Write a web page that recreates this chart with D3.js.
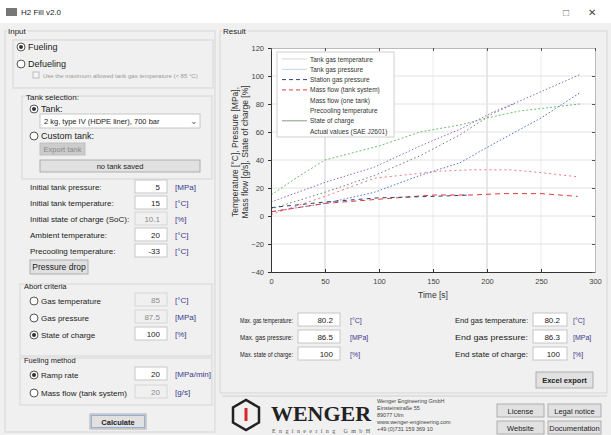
<!DOCTYPE html>
<html>
<head>
<meta charset="utf-8">
<script src="https://cdnjs.cloudflare.com/ajax/libs/d3/7.8.5/d3.min.js"></script>
<style>
body { margin: 0; background: #f0f0f0; overflow: hidden; }
text { font-family: "Liberation Sans", Arial, sans-serif; fill: #222; }
</style>
</head>
<body>
<svg id="app" width="611" height="435"></svg>
<script>
// ---- chart data ----
const timeTicks = [0, 50, 100, 150, 200, 250, 300];
const valueTicks = [-40, -20, 0, 20, 40, 60, 80, 100, 120];

const legendNames = ["Tank gas temperature", "Tank gas pressure", "Station gas pressure",
  "Mass flow (tank system)", "Mass flow (one tank)", "Precooling temperature",
  "State of charge", "Actual values (SAE J2601)"];

const tempTime = [0, 50, 96, 138, 175, 205, 230, 286];
const tempVal = [10, 24, 35, 50, 62, 74, 82, 101];

const gasTime = [0, 50, 96, 138, 175, 205, 225];
const gasVal = [5, 17, 29, 43, 58, 73, 80];

const pressTime = [0, 50, 96, 138, 175, 200, 250, 286];
const pressVal = [3, 9, 17, 29, 38, 49, 70, 88];

const socTime = [0, 25, 50, 75, 100, 138, 175, 200, 230, 286];
const socVal = [15, 28, 40, 45, 50, 60, 65, 70, 75, 80];

const flowOneTime = [0, 50, 96, 156, 185, 221, 250, 284];
const flowOneVal = [1, 14, 27, 32, 33, 33, 31, 28];

const flowTime = [0, 25, 50, 100, 150, 185, 215, 250, 284];
const flowVal = [3, 6, 9, 12, 15, 15, 16, 16, 14];

const stationTime = [0, 25, 50, 100, 150, 185];
const stationVal = [6, 8, 10, 13, 14, 15];

// ---- form texts ----
const inputLabels = ["Initial tank pressure:", "Initial tank temperature:", "Initial state of charge (SoC):",
  "Ambient temperature:", "Precooling temperature:"];
const inputValues = ["5", "15", "10.1", "20", "-33"];
const inputUnits = ["[MPa]", "[°C]", "[%]", "[°C]", "[°C]"];

const abortLabels = ["Gas temperature", "Gas pressure", "State of charge"];
const abortValues = ["85", "87.5", "100"];
const abortUnits = ["[°C]", "[MPa]", "[%]"];

const methodLabels = ["Ramp rate", "Mass flow (tank system)"];
const methodValues = ["20", "20"];
const methodUnits = ["[MPa/min]", "[g/s]"];

const maxLabels = ["Max. gas temperature:", "Max. gas pressure:", "Max. state of charge:"];
const maxValues = ["80.2", "86.5", "100"];
const endLabels = ["End gas temperature:", "End gas pressure:", "End state of charge:"];
const endValues = ["80.2", "86.3", "100"];
const resultUnits = ["[°C]", "[MPa]", "[%]"];

const addressLines = ["Wenger Engineering GmbH", "Einsteinstraße 55", "89077 Ulm",
  "www.wenger-engineering.com", "+49 (0)731 159 369 10"];

const svg = d3.select("#app");

// ---- helpers ----
function label(x, y, s, size, color, anchor) {
  return svg.append("text").attr("x", x).attr("y", y).text(s)
    .attr("font-size", size || 8.5)
    .style("fill", color || "#222")
    .attr("text-anchor", anchor || "start");
}
function group(x, y, w, h, title) {
  svg.append("rect").attr("x", x).attr("y", y).attr("width", w).attr("height", h)
    .attr("fill", "none").attr("stroke", "#d5d5d5");
  if (title) {
    const t = label(x + 3, y + 3, title, 8);
    const bb = t.node().getBBox();
    svg.insert("rect", "text:last-of-type").attr("x", bb.x - 1).attr("y", y - 2)
      .attr("width", bb.width + 2).attr("height", 5).attr("fill", "#f0f0f0");
  }
}
function radio(x, y, on, s, size) {
  svg.append("circle").attr("cx", x).attr("cy", y).attr("r", 4)
    .attr("fill", "#fff").attr("stroke", "#555");
  if (on) svg.append("circle").attr("cx", x).attr("cy", y).attr("r", 2).attr("fill", "#333");
  label(x + 7, y + 3, s, size || 9);
}
function button(x, y, w, h, s, disabled, bold, size) {
  svg.append("rect").attr("x", x).attr("y", y).attr("width", w).attr("height", h)
    .attr("fill", disabled ? "#cccccc" : "#e1e1e1").attr("stroke", disabled ? "#bfbfbf" : "#adadad");
  label(x + w / 2, y + h / 2 + 3, s, size || 7.5, disabled ? "#8a8a8a" : "#222", "middle")
    .attr("font-weight", bold ? "bold" : "normal");
}
function field(x, y, w, s, disabled, size) {
  svg.append("rect").attr("x", x).attr("y", y - 8).attr("width", w).attr("height", 13)
    .attr("fill", disabled ? "#f0f0f0" : "#fff").attr("stroke", disabled ? "#d6d6d6" : "#c6c6c6");
  label(x + w - 7, y + 2, s, size || 8.5, disabled ? "#8a8a8a" : "#222", "end");
}

// ---- window frame ----
svg.append("rect").attr("x", 0).attr("y", 0).attr("width", 611).attr("height", 435)
  .attr("fill", "#f0f0f0");
svg.append("rect").attr("x", 0).attr("y", 0).attr("width", 611).attr("height", 23).attr("fill", "#fff");
svg.append("rect").attr("x", 6).attr("y", 8).attr("width", 11).attr("height", 8).attr("fill", "#777");
label(21, 15, "H2 Fill v2.0", 8);
label(566, 16, "□", 10, "#666", "middle");
label(592, 16, "✕", 10, "#444", "middle");

// ---- input panel ----
group(5, 31, 210, 401, "Input");
group(13, 40, 200, 48);
radio(21, 47, true, "Fueling");
radio(21, 64, false, "Defueling");
svg.append("rect").attr("x", 33).attr("y", 72).attr("width", 6).attr("height", 6)
  .attr("fill", "#f4f4f4").attr("stroke", "#bbb");
label(43, 78, "Use the maximum allowed tank gas temperature (< 85 °C)", 6, "#999");

group(22, 96, 190, 83);
label(26, 100, "Tank selection:", 8);
radio(34, 109, true, "Tank:");
svg.append("rect").attr("x", 40).attr("y", 114).attr("width", 160).attr("height", 14)
  .attr("fill", "#fff").attr("stroke", "#c6c6c6");
label(44, 124, "2 kg, type IV (HDPE liner), 700 bar", 7.5);
label(194, 124, "⌄", 9, "#666", "middle");
radio(34, 136, false, "Custom tank:");
button(40, 143, 45, 12, "Export tank", true);
button(40, 160, 160, 12, "no tank saved", false);

inputLabels.forEach((s, i) => {
  const y = 188 + i * 16;
  label(30, y + 2, s, 8);
  field(135, y, 32, inputValues[i], i === 2, 8);
  label(175, y + 2, inputUnits[i], 8, "#3a3a8a");
});
button(30, 260, 58, 14, "Pressure drop", false, false, 8.5);

group(20, 284, 192, 72);
label(24, 289, "Abort criteria", 7.5);
abortLabels.forEach((s, i) => {
  const y = 301 + i * 17;
  radio(34, y, i === 2, s, 8);
  field(135, y, 32, abortValues[i], i !== 2, 8);
  label(175, y + 2, abortUnits[i], 8, "#3a3a8a");
});

group(20, 358, 192, 47);
label(24, 363, "Fueling method", 7.5);
methodLabels.forEach((s, i) => {
  const y = 375 + i * 18;
  radio(34, y, i === 0, s, 8);
  field(135, y, 32, methodValues[i], i === 1, 8);
  label(175, y + 2, methodUnits[i], 8, "#3a3a8a");
});
button(90, 414, 56, 15, "Calculate", false, true);
svg.append("rect").attr("x", 91.5).attr("y", 415.5).attr("width", 53).attr("height", 12)
  .attr("fill", "none").attr("stroke", "#4a7fc0").attr("stroke-dasharray", "1,1");

// ---- result panel ----
group(220, 31, 387, 362, "Result");

const x = d3.scaleLinear().domain([0, 300]).range([271, 595]);
const y = d3.scaleLinear().domain([-40, 120]).range([272, 48]);

svg.append("rect").attr("x", x(0)).attr("y", y(120)).attr("width", x(300) - x(0))
  .attr("height", y(-40) - y(120)).attr("fill", "#fff");

// grid
svg.append("g").selectAll("line").data(timeTicks.slice(1, -1)).join("line")
  .attr("x1", d => x(d)).attr("x2", d => x(d)).attr("y1", y(120)).attr("y2", y(-40))
  .attr("stroke", d => (d === 50 || d === 200) ? "#cfcfcf" : "#ececec");
svg.append("g").selectAll("line").data(valueTicks.slice(1, -1)).join("line")
  .attr("x1", x(0)).attr("x2", x(300)).attr("y1", d => y(d)).attr("y2", d => y(d))
  .attr("stroke", "#e2e2e2");

// series
const line = d3.line().x(d => x(d[0])).y(d => y(d[1]));
const zip = (a, b) => a.map((t, i) => [t, b[i]]);
const series = [
  { data: zip(socTime, socVal), color: "#5cb85c", dash: "2,2", w: 0.9 },
  { data: zip(gasTime, gasVal), color: "#777", dash: "1.5,2.5", w: 1 },
  { data: zip(tempTime, tempVal), color: "#8c6bb8", dash: "1.5,2", w: 1 },
  { data: zip(pressTime, pressVal), color: "#4f72d6", dash: "1.5,2", w: 1 },
  { data: zip(flowOneTime, flowOneVal), color: "#f07a7a", dash: "2,3", w: 1 },
  { data: zip(flowTime, flowVal), color: "#e23a3a", dash: "5,4", w: 1 },
  { data: zip(stationTime, stationVal), color: "#2b3f7a", dash: "4,4", w: 1 }
];
svg.append("g").selectAll("path").data(series).join("path")
  .attr("d", d => line(d.data)).attr("fill", "none")
  .attr("stroke", d => d.color).attr("stroke-width", d => d.w)
  .attr("stroke-dasharray", d => d.dash);

// axes
const xAxis = svg.append("g").attr("transform", `translate(0,${y(-40)})`)
  .call(d3.axisBottom(x).tickValues(timeTicks).tickSize(-3).tickPadding(7));
const yAxis = svg.append("g").attr("transform", `translate(${x(0)},0)`)
  .call(d3.axisLeft(y).tickValues(valueTicks).tickSize(3).tickPadding(4));
[xAxis, yAxis].forEach(a => {
  a.select(".domain").attr("stroke", "#333");
  a.selectAll(".tick line").attr("stroke", "#333");
  a.selectAll("text").attr("font-size", 7.5).style("fill", "#444");
});
svg.append("g").attr("transform", `translate(${x(300)},0)`)
  .call(d3.axisRight(y).tickValues(valueTicks).tickSize(-3).tickFormat(""))
  .call(g => g.select(".domain").attr("stroke", "#bbb"))
  .call(g => g.selectAll(".tick line").attr("stroke", "#555"));
svg.append("g").attr("transform", `translate(0,${y(120)})`)
  .call(d3.axisTop(x).tickValues(timeTicks).tickSize(-3).tickFormat(""))
  .call(g => g.select(".domain").attr("stroke", "#bbb"))
  .call(g => g.selectAll(".tick line").attr("stroke", "#555"));

label((x(0) + x(300)) / 2, 298, "Time [s]", 8.5, "#333", "middle");
label(0, 0, "Temperature [°C], Pressure [MPa],", 8.5, "#333", "middle")
  .attr("transform", "translate(238,152) rotate(-90)");
label(0, 0, "Mass flow [g/s], State of charge [%]", 8.5, "#333", "middle")
  .attr("transform", "translate(248,152) rotate(-90)");

// legend
const legendStyles = [
  { color: "#d6d6d6", dash: null },
  { color: "#c4d0ee", dash: null },
  { color: "#2b3f8a", dash: "4,3" },
  { color: "#e23a3a", dash: "4,3" },
  { color: "none", dash: null },
  { color: "none", dash: null },
  { color: "#8a9a8a", dash: null },
  { color: "none", dash: null }
];
const lg = svg.append("g").attr("transform", "translate(277,52)");
lg.append("rect").attr("width", 117).attr("height", 85).attr("fill", "#fff").attr("stroke", "#cfcfcf");
legendNames.forEach((n, i) => {
  const yy = 7 + i * 10.3;
  lg.append("line").attr("x1", 5).attr("x2", 30).attr("y1", yy).attr("y2", yy)
    .attr("stroke", legendStyles[i].color).attr("stroke-dasharray", legendStyles[i].dash)
    .attr("stroke-width", 1);
  lg.append("text").attr("x", 33).attr("y", yy + 2.5).text(n).attr("font-size", 6.5).style("fill", "#333");
});

// results
maxLabels.forEach((s, i) => {
  const yy = 321 + i * 17;
  label(240, yy + 2, s, 7).attr("textLength", 53).attr("lengthAdjust", "spacingAndGlyphs");
  field(298, yy, 42, maxValues[i], false, 8);
  label(350, yy + 2, resultUnits[i], 7, "#3a3a8a");
});
endLabels.forEach((s, i) => {
  const yy = 321 + i * 17;
  label(455, yy + 2, s, 7.5).attr("textLength", 73).attr("lengthAdjust", "spacingAndGlyphs");
  field(533, yy, 34, endValues[i], false, 8);
  label(573, yy + 2, resultUnits[i], 7, "#3a3a8a");
});
button(536, 372, 57, 16, "Excel export", false, true);

// ---- footer ----
svg.append("line").attr("x1", 222).attr("x2", 607).attr("y1", 396).attr("y2", 396).attr("stroke", "#cfcfcf");
const hex = d3.range(6).map(k => {
  const a = Math.PI / 6 + k * Math.PI / 3;
  return [246 + 15 * Math.cos(a), 415 + 15 * Math.sin(a)];
});
svg.append("polygon").attr("points", hex.map(p => p.join(",")).join(" "))
  .attr("fill", "none").attr("stroke", "#222").attr("stroke-width", 2.5);
svg.append("rect").attr("x", 244.5).attr("y", 408).attr("width", 3).attr("height", 13).attr("fill", "#d9252a");
label(271, 421, "WENGER", 21, "#222").style("font-family", "'Liberation Serif', 'DejaVu Serif', serif")
  .attr("font-weight", "bold").attr("textLength", 100).attr("lengthAdjust", "spacingAndGlyphs");
label(272, 433, "Engineering GmbH", 6, "#555").style("font-family", "'Liberation Serif', serif")
  .attr("textLength", 98).attr("lengthAdjust", "spacing");
addressLines.forEach((s, i) => label(377, 403 + i * 7, s, 5.5, "#444"));
button(497, 404, 47, 13, "License", false);
button(548, 404, 53, 13, "Legal notice", false);
button(497, 421, 47, 13, "Website", false);
button(548, 421, 53, 13, "Documentation", false);
</script>
</body>
</html>
